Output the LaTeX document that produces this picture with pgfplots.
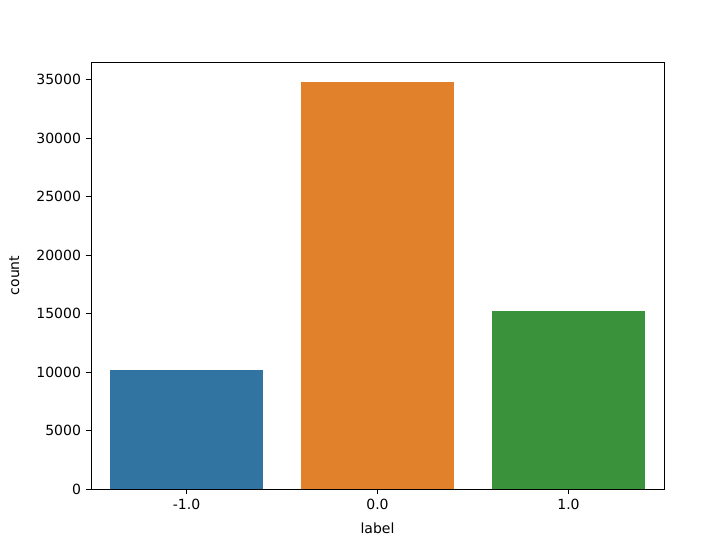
\documentclass[border=0pt]{standalone}
\usepackage{pgfplots}
\pgfplotsset{compat=1.18}
\usepackage{fontspec}
\setmainfont{DejaVu Sans}
\definecolor{c1}{HTML}{3274A1}
\definecolor{c2}{HTML}{E1812C}
\definecolor{c3}{HTML}{3A923A}
\begin{document}
\begin{tikzpicture}
\path[use as bounding box] (-68.25pt,-42pt) rectangle (474pt,366.75pt);
\begin{axis}[
  at={(0,0)}, anchor=south west,
  scale only axis, width=429.75pt, height=320.25pt,
  xmin=-0.5, xmax=2.5, ymin=0, ymax=36500,
  xtick={0,1,2}, xticklabels={-1.0,0.0,1.0},
  ytick={0,5000,...,35000},
  scaled y ticks=false,
  /pgf/number format/.cd, 1000 sep={}, fixed, assume math mode=true,
  /pgfplots/.cd,
  tick style={black, line width=0.6pt},
  major tick length=4pt,
  tick align=outside, tick pos=left,
  axis line style={line width=0.6pt},
  ticklabel style={font=\fontsize{10.5}{12}\selectfont},
  label style={font=\fontsize{10.5}{12}\selectfont},
  xlabel={label}, ylabel={count},
  xlabel style={yshift=-3pt},
  ylabel style={yshift=6pt},
  ybar, bar width=0.8, bar shift=0pt,
]
\addplot[fill=c1, draw=none] coordinates {(0,10150)};
\addplot[fill=c2, draw=none] coordinates {(1,34770)};
\addplot[fill=c3, draw=none] coordinates {(2,15250)};
\end{axis}
\end{tikzpicture}
\end{document}
